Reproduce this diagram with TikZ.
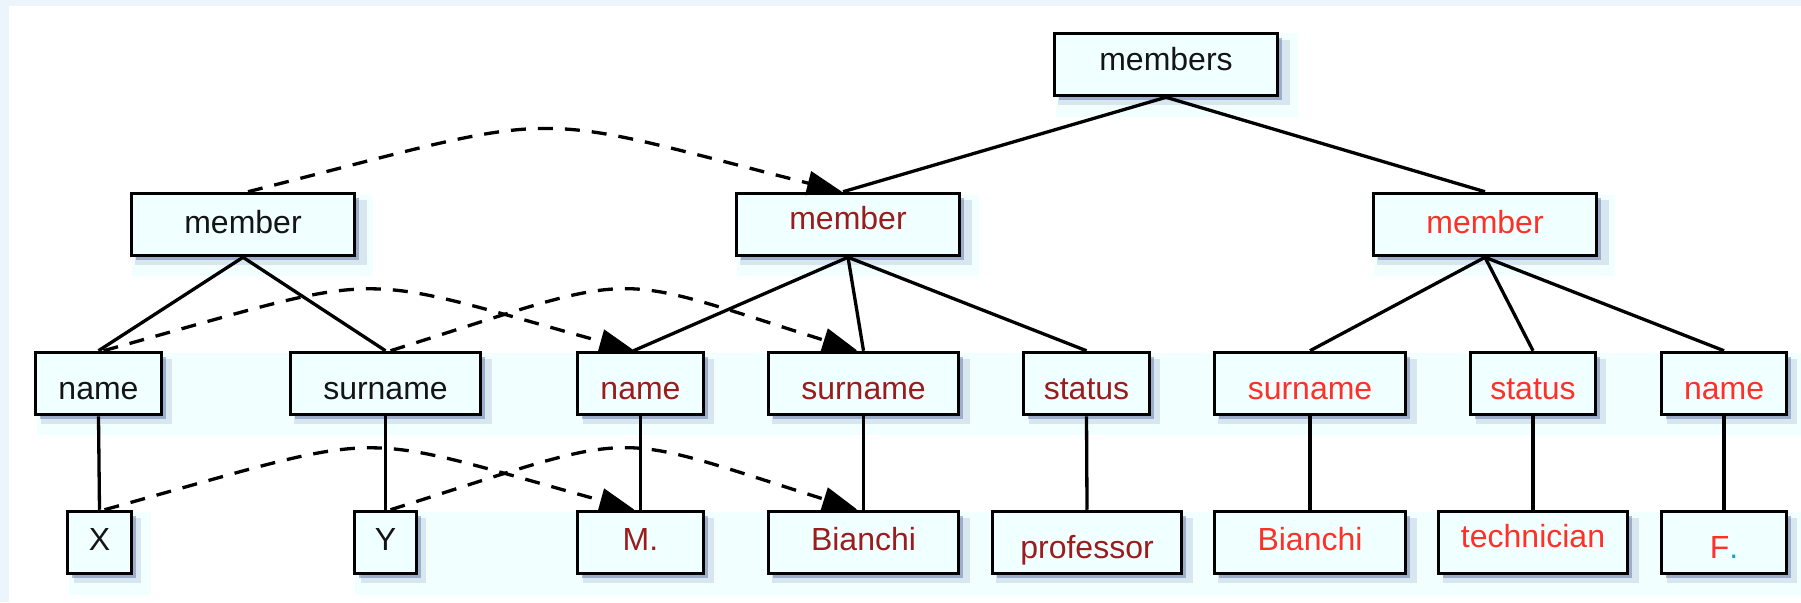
\documentclass[tikz,border=0pt]{standalone}
\usepackage{fontspec}
\setmainfont{Liberation Sans}
\usetikzlibrary{arrows.meta,shadows}
\definecolor{outerbg}{RGB}{236,244,252}
\definecolor{band}{RGB}{241,255,255}
\definecolor{boxfill}{RGB}{240,255,255}
\definecolor{dred}{RGB}{155,28,28}
\definecolor{bred}{RGB}{255,48,40}
\definecolor{tblack}{RGB}{20,20,20}
\definecolor{shc}{RGB}{70,90,150}
\definecolor{dotc}{RGB}{30,160,190}
\begin{document}
\begin{tikzpicture}[x=0.01cm,y=-0.01cm,
  bx/.style={draw=black, line width=0.035cm, fill=boxfill, rectangle, inner sep=0pt,
    minimum height=0.62cm, text depth=0pt, text=tblack,
    font=\fontsize{9.1pt}{10pt}\selectfont,
    drop shadow={shadow xshift=0.075cm, shadow yshift=-0.075cm, opacity=0.15, fill=shc, shadow scale=1.04},
    drop shadow={shadow xshift=0.045cm, shadow yshift=-0.045cm, opacity=0.4, fill=shc}},
  mw/.style={minimum width=#1},
  th/.style={text height=#1},
  ln/.style={line width=0.033cm},
  dsh/.style={line width=0.033cm, dash pattern=on 0.15cm off 0.12cm,
    -{Triangle[length=0.35cm,width=0.24cm]}}]
\useasboundingbox (0,0) rectangle (1801,602);
\fill[outerbg] (0,0) rectangle (1801,602);
\fill[white] (8.7,5.7) rectangle (1801,602);
% pale shadow-area bands
\fill[band] (1056,33) rectangle (1298,117);
\fill[band] (132,195) rectangle (373,276);
\fill[band] (737,195) rectangle (979,276);
\fill[band] (1374,195) rectangle (1615,276);
\fill[band] (37,353) rectangle (1801,435);
\fill[band] (69,512) rectangle (151,595);
\fill[band] (355,512) rectangle (1801,595);
% nodes
\node[bx,mw=2.23cm,th=0.11cm] (ms) at (1166,64.5) {members};
\node[bx,mw=2.23cm,th=0.17cm] (mL) at (243,224.5) {member};
\node[bx,mw=2.23cm,th=0.09cm,text=dred] (mM) at (848,224.5) {member};
\node[bx,mw=2.23cm,th=0.17cm,text=bred] (mR) at (1485,224.5) {member};
\node[bx,mw=1.26cm,th=0.31cm] (nL) at (98.5,383.5) {name};
\node[bx,mw=1.90cm,th=0.31cm] (sL) at (385.5,383.5) {surname};
\node[bx,mw=1.26cm,th=0.31cm,text=dred] (nM) at (640.5,383.5) {name};
\node[bx,mw=1.90cm,th=0.31cm,text=dred] (sM) at (863.5,383.5) {surname};
\node[bx,mw=1.26cm,th=0.31cm,text=dred] (stM) at (1086.5,383.5) {status};
\node[bx,mw=1.91cm,th=0.31cm,text=bred] (sR) at (1310,383.5) {surname};
\node[bx,mw=1.25cm,th=0.31cm,text=bred] (stR) at (1533,383.5) {status};
\node[bx,mw=1.25cm,th=0.31cm,text=bred] (nR) at (1724,383.5) {name};
\node[bx,mw=0.64cm,th=0.15cm] (X) at (99.5,542.5) {X};
\node[bx,mw=0.62cm,th=0.15cm] (Y) at (385.5,542.5) {Y};
\node[bx,mw=1.26cm,th=0.15cm,text=dred] (Md) at (640.5,542.5) {M.};
\node[bx,mw=1.90cm,th=0.15cm,text=dred] (bM) at (863.5,542.5) {Bianchi};
\node[bx,mw=1.89cm,th=0.31cm,text=dred] (pr) at (1087,542.5) {professor};
\node[bx,mw=1.91cm,th=0.15cm,text=bred] (bR) at (1310,542.5) {Bianchi};
\node[bx,mw=1.89cm,th=0.09cm,text=bred] (te) at (1533,542.5) {technician};
\node[bx,mw=1.25cm,th=0.31cm,text=bred] (Fd) at (1724,542.5) {F\textcolor{dotc}{.}};
% tree edges
\draw[ln] (ms.south) -- ([xshift=-0.05cm]mM.north);
\draw[ln] (ms.south) -- (mR.north);
\draw[ln] (mL.south) -- (nL.north);
\draw[ln] (mL.south) -- (sL.north);
\draw[ln] (mM.south) -- ([xshift=-0.07cm]nM.north);
\draw[ln] (mM.south) -- (sM.north);
\draw[ln] (mM.south) -- (stM.north);
\draw[ln] (mR.south) -- (sR.north);
\draw[ln] (mR.south) -- (stR.north);
\draw[ln] (mR.south) -- (nR.north);
\draw[ln] (nL.south) -- (X.north);
\draw[ln] (sL.south) -- (Y.north);
\draw[ln] (nM.south) -- (Md.north);
\draw[ln] (sM.south) -- (bM.north);
\draw[ln] (stM.south) -- (pr.north);
\draw[ln] (sR.south) -- (bR.north);
\draw[ln] (stR.south) -- (te.north);
\draw[ln] (nR.south) -- (Fd.north);
% dashed arrows
\draw[dsh] ([xshift=0.05cm]mL.north) .. controls +(327,-83) and +(-327,-83) .. ([xshift=-0.06cm]mM.north);
\draw[dsh] ([xshift=0.05cm]nL.north) .. controls +(292,-81) and +(-292,-81) .. ([xshift=-0.06cm]nM.north);
\draw[dsh] ([xshift=0.05cm]sL.north) .. controls +(257,-81) and +(-257,-81) .. ([xshift=-0.06cm]sM.north);
\draw[dsh] ([xshift=0.05cm]X.north) .. controls +(292,-81) and +(-292,-81) .. ([xshift=-0.06cm]Md.north);
\draw[dsh] ([xshift=0.05cm]Y.north) .. controls +(257,-81) and +(-257,-81) .. ([xshift=-0.06cm]bM.north);
\end{tikzpicture}
\end{document}
